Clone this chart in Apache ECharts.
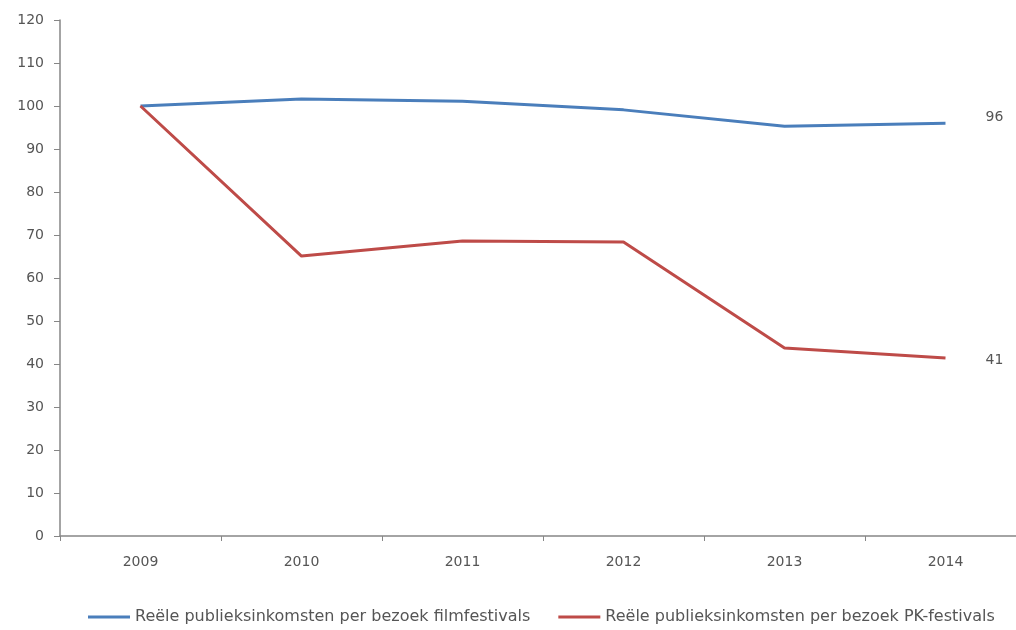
<!DOCTYPE html>
<html><head><meta charset="utf-8">
<script src="https://cdn.jsdelivr.net/npm/echarts@6/dist/echarts.min.js"></script>
<style>html,body{margin:0;padding:0;background:#fff}#c{width:1016px;height:630px}</style>
</head><body><div id="c"></div>
<script>
const years = ['2009','2010','2011','2012','2013','2014'];
const filmName = 'Reële publieksinkomsten per bezoek filmfestivals';
const pkName = 'Reële publieksinkomsten per bezoek PK-festivals';
const filmValues = [100, 101.6, 101.1, 99.1, 95.3, 96];
const pkValues = [100, 65.1, 68.6, 68.4, 43.7, 41.4];
const endLabels = ['96', '41'];

const font = 'DejaVu Sans';
const txt = '#555555';
const chart = echarts.init(document.getElementById('c'));
function endLabel(t, dy){
  return {show:true, formatter:t, distance:40, offset:[0,dy], color:txt, fontSize:14, fontFamily:font};
}
chart.setOption({
  animation:false,
  grid:{left:60, width:966, top:20, height:516, containLabel:false, outerBoundsMode:'none'},
  legend:{bottom:0, left:83, itemWidth:42, itemHeight:3, itemGap:28, icon:'rect',
    textStyle:{color:txt, fontSize:16, fontFamily:font},
    data:[filmName, pkName]},
  xAxis:{type:'category', data:years, boundaryGap:true,
    axisLine:{lineStyle:{color:'#868686', width:1.5}},
    axisTick:{show:true, length:5, lineStyle:{color:'#868686'}},
    axisLabel:{color:txt, fontSize:14, fontFamily:font, margin:19}},
  yAxis:{type:'value', min:0, max:120, interval:10,
    axisLine:{show:true, lineStyle:{color:'#868686', width:1.5}},
    axisTick:{show:true, length:6, lineStyle:{color:'#868686'}},
    splitLine:{show:false},
    axisLabel:{color:txt, fontSize:14, fontFamily:font, margin:16}},
  series:[
    {name:filmName, type:'line', data:filmValues, symbol:'none',
     lineStyle:{color:'#4a7ebb', width:3}, itemStyle:{color:'#4a7ebb'}, endLabel:endLabel(endLabels[0], -6)},
    {name:pkName, type:'line', data:pkValues, symbol:'none',
     lineStyle:{color:'#be4b48', width:3}, itemStyle:{color:'#be4b48'}, endLabel:endLabel(endLabels[1], 2)}
  ]
});
</script></body></html>
